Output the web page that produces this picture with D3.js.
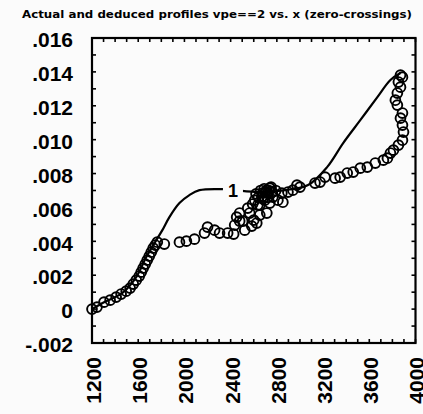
<!DOCTYPE html>
<html><head><meta charset="utf-8">
<script src="https://cdn.jsdelivr.net/npm/d3@7"></script>
<style>html,body{margin:0;padding:0;background:#fbfbfb;}svg{display:block;}</style>
</head><body>
<svg id="c" width="423" height="414"></svg>
<script>
const titleText = "Actual and deduced profiles vpe==2 vs. x (zero-crossings)";
const xTicks = [1200,1600,2000,2400,2800,3200,3600,4000];
const yTicks = [-0.002,0,0.002,0.004,0.006,0.008,0.010,0.012,0.014,0.016];
const yTickLabels = ["-.002","0",".002",".004",".006",".008",".010",".012",".014",".016"];

// actual profile (curve "1")
const lineX = [1200,1304,1461,1583,1670,1757,1809,1870,1957,2043,2130,2330,2652,2870,3070,3235,3374,3522,3670,3783,3870];
const lineY = [0,0.00041,0.00094,0.00189,0.00307,0.00407,0.00466,0.00543,0.00626,0.00673,0.00702,0.00708,0.00691,0.00702,0.00732,0.00838,0.00980,0.01115,0.01251,0.01352,0.01393];
const lineLabel = "1";
const lineLabelX = 2420;

// deduced profile (zero-crossings, circles)
const ptX = [1200,1243,1304,1357,1409,1452,1496,1530,1557,1583,1609,1626,1643,1661,1678,1696,1713,1730,1748,1765,
  1826,1957,2017,2087,2174,2200,2261,2304,2374,2426,2435,2452,2478,2504,2548,2565,2600,2635,2670,2626,
  2713,2713,2739,2739,2765,2809,2843,2852,2896,2939,2974,3000,
  2609,2652,2678,2696,2722,2652,2583,2522,2478,
  2620,2660,2690,2700,2730,2750,2680,2720,2760,2640,2790,2590,
  3130,3174,3217,3304,3348,3409,3461,3522,3583,3652,3722,3757,3783,3809,3852,3887,3896,3887,3870,3887,3843,3826,3843,3870,3852,3887,3870];
const ptY = [0,0.00012,0.00041,0.00053,0.00071,0.00089,0.00106,0.00124,0.00148,0.00171,0.00195,0.00218,0.00242,0.00266,0.00289,0.00313,0.00336,0.00360,0.00378,0.00395,
  0.00384,0.00395,0.00401,0.00413,0.00449,0.00484,0.00466,0.00449,0.00449,0.00443,0.00496,0.00543,0.00567,0.00519,0.00596,0.00567,0.00525,0.00614,0.00661,0.00508,
  0.00702,0.00567,0.00626,0.00714,0.00661,0.00643,0.00685,0.00631,0.00691,0.00702,0.00732,0.00720,
  0.00643,0.00614,0.00685,0.00643,0.00685,0.00555,0.00490,0.00466,0.00520,
  0.00680,0.00700,0.00710,0.00690,0.00700,0.00720,0.00650,0.00660,0.00690,0.00660,0.00700,0.00620,
  0.00744,0.00750,0.00779,0.00773,0.00779,0.00803,0.00809,0.00832,0.00838,0.00862,0.00879,0.00891,0.00921,0.00938,0.00968,0.00997,0.01045,0.01086,0.01127,0.01157,0.01204,0.01233,0.01275,0.01310,0.01340,0.01369,0.01381];

const svg = d3.select("#c");
const x = d3.scaleLinear().domain([1200,4000]).range([92,415.5]);
const y = d3.scaleLinear().domain([-0.002,0.016]).range([343,38]);

// title
svg.append("text").attr("x",22).attr("y",18)
  .attr("font-family","DejaVu Sans").attr("font-weight","bold").attr("font-size",10)
  .attr("textLength",390).attr("lengthAdjust","spacingAndGlyphs")
  .text(titleText);

// minor ticks (inward) on all sides
const xMinor = d3.range(1200,4001,100);
const yMinor = d3.range(-0.002,0.01601,0.001);
const tk = svg.append("g").attr("stroke","#000").attr("stroke-width",1.6);
xMinor.forEach(v=>{
  tk.append("line").attr("x1",x(v)).attr("x2",x(v)).attr("y1",y(-0.002)).attr("y2",y(-0.002)-4);
  tk.append("line").attr("x1",x(v)).attr("x2",x(v)).attr("y1",y(0.016)).attr("y2",y(0.016)+4);
});
yMinor.forEach(v=>{
  tk.append("line").attr("y1",y(v)).attr("y2",y(v)).attr("x1",x(1200)).attr("x2",x(1200)+4);
  tk.append("line").attr("y1",y(v)).attr("y2",y(v)).attr("x1",x(4000)).attr("x2",x(4000)-4);
});

// frame
svg.append("rect").attr("x",x(1200)).attr("y",y(0.016))
  .attr("width",x(4000)-x(1200)).attr("height",y(-0.002)-y(0.016))
  .attr("fill","none").attr("stroke","#000").attr("stroke-width",2.2);

// y axis labels
const yAxis = d3.axisLeft(y).tickValues(yTicks).tickSize(0).tickPadding(0)
  .tickFormat((d,i)=>yTickLabels[i]);
const gy = svg.append("g").attr("transform","translate(73,2)").call(yAxis);
gy.select(".domain").remove();
gy.selectAll("text").attr("font-family","Liberation Sans").attr("font-weight","bold").attr("font-size",21).attr("fill","#000");

// x axis labels (rotated)
const xAxis = d3.axisBottom(x).tickValues(xTicks).tickSize(0).tickFormat(d3.format("d"));
const gx = svg.append("g").attr("transform","translate(1,357)").call(xAxis);
gx.select(".domain").remove();
gx.selectAll("text").attr("font-family","Liberation Sans").attr("font-weight","bold").attr("font-size",21).attr("fill","#000")
  .attr("transform","rotate(-90)").attr("x",0).attr("y",0).attr("dy","0.35em").attr("text-anchor","end");

// line
const lineData = lineX.map((v,i)=>[v,lineY[i]]);
svg.append("path").datum(lineData)
  .attr("d", d3.line().x(d=>x(d[0])).y(d=>y(d[1])).curve(d3.curveCatmullRom))
  .attr("fill","none").attr("stroke","#000").attr("stroke-width",2.2);

// circles
const pts = ptX.map((v,i)=>[v,ptY[i]]);
svg.append("g").selectAll("circle").data(pts).join("circle")
  .attr("cx",d=>x(d[0])).attr("cy",d=>y(d[1])).attr("r",4.9)
  .attr("fill","none").attr("stroke","#000").attr("stroke-width",1.9);

// curve label "1" with a gap in the line
const lx = x(lineLabelX), ly = y(0.00700);
svg.append("rect").attr("x",lx-10).attr("y",ly-6).attr("width",20).attr("height",12).attr("fill","#fbfbfb");
svg.append("text").attr("x",lx).attr("y",ly).attr("dy","0.36em").attr("text-anchor","middle")
  .attr("font-family","Liberation Sans").attr("font-weight","bold").attr("font-size",18).text(lineLabel);
</script>
</body></html>
